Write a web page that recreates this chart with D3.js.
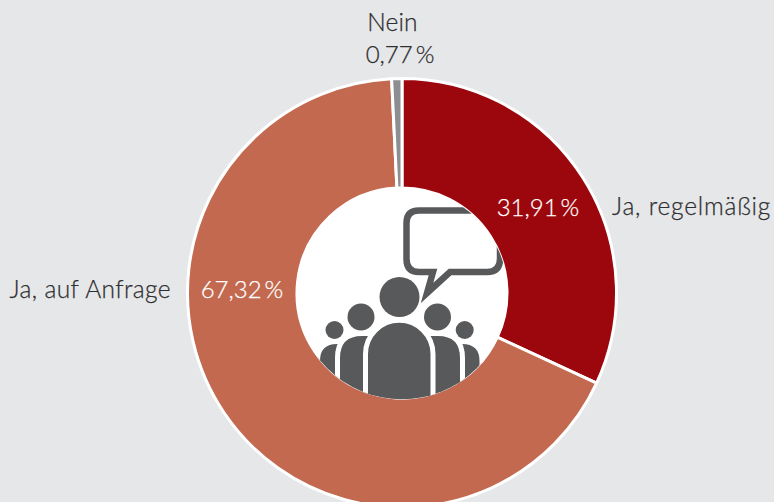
<!DOCTYPE html>
<html><head><meta charset="utf-8">
<script src="https://cdn.jsdelivr.net/npm/d3@7"></script>
<style>html,body{margin:0;padding:0;background:#e6e7e8}svg{display:block}text{font-family:Lato,sans-serif;font-weight:300;font-size:24.5px}text.pct{font-size:24px}</style>
</head><body><svg id="c" width="774" height="502"></svg>
<script>
const categories=["Ja, regelmäßig","Ja, auf Anfrage","Nein"];
const shares=[31.91,67.32,0.77];
const shareLabels=["31,91\u2009%","67,32\u2009%","0,77\u2009%"];
const colors=["#9c070e","#c3694f","#8c8e91"];
const cx=402,cy=293,R=214.5,r=105;
const svg=d3.select("#c");
const g=svg.append("g").attr("transform",`translate(${cx},${cy})`);
const pie=d3.pie().sort(null)(shares);
const arc=d3.arc().innerRadius(r).outerRadius(R);
g.selectAll("path.s").data(pie).join("path").attr("class","s").attr("d",arc)
 .attr("fill",(d,i)=>colors[i]).attr("stroke","#fff").attr("stroke-width",3).attr("stroke-linejoin","round");
const cg=g.append("g").attr("transform","translate(0,0.5)");
cg.append("circle").attr("r",r+0.8).attr("fill","#fff");
// icon
const defs=svg.append("defs");
defs.append("clipPath").attr("id","ic").append("circle").attr("r",r+0.8);
const ink="#58595b";
const ic=cg.append("g").attr("clip-path","url(#ic)").append("g").attr("transform",`translate(${-cx},${-cy-0.5})`);
ic.append("path").attr("fill","#fff").attr("stroke",ink).attr("stroke-width",6.5).attr("stroke-linejoin","miter")
 .attr("d","M419 210.5H487Q500 210.5 500 223V259Q500 272 487 272H450L427 293L433 272H419Q406.500 272 406.500 259V223Q406.500 210.500 419 210.500Z");
const heads=[[399.5,297,20],[361,317,13.5],[437.5,317,13.5],[334.5,330,9],[464.700,330,9]];
ic.selectAll("circle").data(heads).join("circle").attr("cx",d=>d[0]).attr("cy",d=>d[1]).attr("r",d=>d[2]).attr("fill",ink);
const bodies=[
 "M317.500 420V361Q317.500 341.500 337 341.500H345V420Z",
 "M482 420V361Q482 341.500 462 341.500H455V420Z",
 "M337.500 420V358Q337.500 333.500 362 333.500H375V420Z",
 "M462.500 420V358Q462.500 333.500 438 333.500H425V420Z"];
ic.selectAll("path.b").data(bodies).join("path").attr("class","b").attr("d",d=>d).attr("fill",ink).attr("stroke","#fff").attr("stroke-width",5);
ic.append("path").attr("d","M365.500 420V354A33.750 33.750 0 0 1 433 354V420Z").attr("fill",ink).attr("stroke","#fff").attr("stroke-width",5);
// labels
const T=(x,y,t,a,f,ls,c)=>svg.append("text").attr("class",c||null).attr("x",x).attr("y",y).attr("text-anchor",a).attr("fill",f).attr("stroke",f).attr("stroke-width",0.25).attr("letter-spacing",ls||0).text(t);
const dark="#2f2f31";
T(392.5,31,categories[2],"middle",dark,0.2);
T(400,63,shareLabels[2],"middle",dark,0,"pct");
T(612,215,categories[0],"start",dark,0.8);
T(538,216,shareLabels[0],"middle","#fff",0,"pct");
T(171,298,categories[1],"end",dark,0.4);
T(242,298,shareLabels[1],"middle","#fff",0,"pct");
</script></body></html>
